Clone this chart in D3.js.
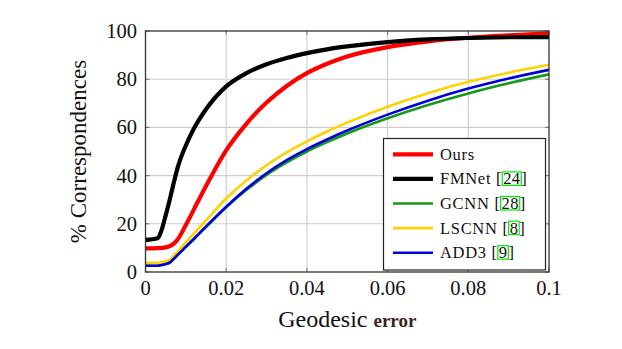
<!DOCTYPE html>
<html>
<head>
<meta charset="utf-8">
<script src="https://d3js.org/d3.v7.min.js"></script>
<style>
  body { margin: 0; background: #fff; }
  svg text { fill: #111; }
</style>
</head>
<body>
<svg id="chart" width="622" height="349"></svg>
<script>
// geodesic error thresholds (x values shared by every curve)
var errors = [0, 0.003, 0.004, 0.005, 0.006, 0.007, 0.008, 0.01, 0.012, 0.015, 0.02,
              0.025, 0.03, 0.035, 0.04, 0.045, 0.05, 0.06, 0.07, 0.08, 0.09, 0.1];

// % correspondences for each method
var ours  = [9.8, 9.9, 10, 10.2, 10.7, 11.8, 13.6, 19.5, 26, 35.7, 50.5, 61.5, 70.3, 77.2, 82.5, 86.4, 89.4, 93.3, 95.7, 97.2, 98.2, 99];
var fmnet = [13.3, 14, 17.5, 23.5, 30, 37, 43.5, 52.5, 59.5, 67.5, 77, 82.5, 86.2, 88.8, 90.8, 92.4, 93.6, 95.4, 96.5, 97.1, 97.4, 97.5];
var gcnn  = [2.6, 2.6, 2.9, 3.3, 3.9, 5.4, 7, 10.3, 13.6, 18.6, 26.8, 34, 40.3, 45.5, 50, 53.9, 57.5, 63.8, 69.3, 74.1, 78.3, 82];
var lscnn = [3.8, 3.8, 4.1, 4.5, 5, 6.8, 8.6, 12.3, 15.9, 21.4, 30.5, 38, 44.3, 49.6, 54.2, 58.3, 62, 68.6, 74.2, 78.9, 82.7, 86];
var add3  = [2.6, 2.6, 2.9, 3.3, 3.9, 5.5, 7.2, 10.5, 13.8, 18.9, 27.1, 34.5, 41, 46.4, 51, 55, 58.7, 65.3, 71.1, 76.1, 80.3, 83.9];

var names  = ["Ours", "FMNet", "GCNN", "LSCNN", "ADD3"];
var cites  = ["", "24", "28", "8", "9"];
var xTicks = [0, 0.02, 0.04, 0.06, 0.08, 0.1];
var yTicks = [0, 20, 40, 60, 80, 100];

var series = [ours, fmnet, gcnn, lscnn, add3];
var colors = ["#ff0000", "#000000", "#149a14", "#ffd200", "#0000dd"];
var widths = [4.2, 4.2, 2.6, 2.6, 2.6];

var serif = "'Liberation Serif'";

var svg = d3.select("#chart");
svg.append("rect").attr("width", 622).attr("height", 349).attr("fill", "#fff");

// plot area edges
var pL = 145.5, pR = 549, pT = 31, pB = 272;
var x = d3.scaleLinear().domain([0, 0.1]).range([pL, pR]);
var y = d3.scaleLinear().domain([0, 100]).range([pB, pT]);

// grid
var grid = svg.append("g");
grid.selectAll(".gx").data(xTicks.slice(1, -1)).enter().append("line")
    .attr("x1", function(d) { return x(d); }).attr("x2", function(d) { return x(d); })
    .attr("y1", pT).attr("y2", pB)
    .attr("stroke", "#cdcdcd").attr("stroke-width", 1.1);
grid.selectAll(".gy").data(yTicks.slice(1, -1)).enter().append("line")
    .attr("y1", function(d) { return y(d); }).attr("y2", function(d) { return y(d); })
    .attr("x1", pL).attr("x2", pR)
    .attr("stroke", "#cdcdcd").attr("stroke-width", 1.1);

// inward ticks on all four sides
var ticks = svg.append("g").attr("stroke", "#777").attr("stroke-width", 1.1);
xTicks.forEach(function(t) {
    ticks.append("line").attr("x1", x(t)).attr("x2", x(t)).attr("y1", pB).attr("y2", pB - 4);
    ticks.append("line").attr("x1", x(t)).attr("x2", x(t)).attr("y1", pT).attr("y2", pT + 4);
});
yTicks.forEach(function(t) {
    ticks.append("line").attr("y1", y(t)).attr("y2", y(t)).attr("x1", pL).attr("x2", pL + 4);
    ticks.append("line").attr("y1", y(t)).attr("y2", y(t)).attr("x1", pR).attr("x2", pR - 4);
});

// curves
svg.append("clipPath").attr("id", "plot")
    .append("rect").attr("x", pL).attr("y", pT - 3).attr("width", pR - pL).attr("height", pB - pT + 3);

var line = d3.line()
    .x(function(d, i) { return x(errors[i]); })
    .y(function(d) { return y(d); })
    .curve(d3.curveMonotoneX);

svg.append("g").attr("clip-path", "url(#plot)")
    .selectAll("path").data(series).enter().append("path")
    .attr("d", line)
    .attr("fill", "none")
    .attr("stroke", function(d, i) { return colors[i]; })
    .attr("stroke-width", function(d, i) { return widths[i]; })
    .attr("stroke-linejoin", "round");

// frame
svg.append("rect").attr("x", pL).attr("y", pT).attr("width", pR - pL).attr("height", pB - pT)
    .attr("fill", "none").attr("stroke", "#333").attr("stroke-width", 1.3);

// tick labels
svg.append("g").selectAll("text").data(xTicks).enter().append("text")
    .attr("x", function(d) { return x(d); }).attr("y", 294.5)
    .attr("text-anchor", "middle").attr("font-family", serif).attr("font-size", 20.5)
    .text(function(d) { return d; });
svg.append("g").selectAll("text").data(yTicks).enter().append("text")
    .attr("x", 137).attr("y", function(d) { return y(d) + 7; })
    .attr("text-anchor", "end").attr("font-family", serif).attr("font-size", 20.5)
    .text(function(d) { return d; });

// axis labels
var xl = svg.append("text").attr("x", (pL + pR) / 2).attr("y", 327)
    .attr("text-anchor", "middle").attr("font-family", serif).attr("font-size", 24);
xl.append("tspan").text("Geodesic ");
xl.append("tspan").text("error").attr("font-weight", "bold").attr("font-size", 19)
    .style("fill", "#3a2620");

svg.append("text")
    .attr("transform", "translate(86," + ((pT + pB) / 2) + ") rotate(-90)")
    .attr("text-anchor", "middle").attr("font-family", serif).attr("font-size", 23)
    .text("% Correspondences");

// legend
var lg = svg.append("g");
lg.append("rect").attr("x", 383.5).attr("y", 138.5).attr("width", 162).attr("height", 131.5)
    .attr("fill", "#fff").attr("stroke", "#222").attr("stroke-width", 1.2);

names.forEach(function(n, i) {
    var ry = 154.3 + i * 24.6;
    lg.append("line").attr("x1", 393).attr("x2", 433).attr("y1", ry).attr("y2", ry)
        .attr("stroke", colors[i]).attr("stroke-width", widths[i]);
    var label = lg.append("text").attr("x", 440).attr("y", ry + 5.5)
        .attr("font-family", serif).attr("font-size", 16.5).attr("letter-spacing", 0.7)
        .text(cites[i] ? n + " [" : n);
    if (!cites[i]) return;
    var cx = 440 + label.node().getComputedTextLength() + 1;
    var num = lg.append("text").attr("x", cx).attr("y", ry + 5.5)
        .attr("font-family", serif).attr("font-size", 16.5).attr("letter-spacing", 0.3)
        .text(cites[i]);
    var w = num.node().getComputedTextLength();
    lg.append("rect").attr("x", cx - 1).attr("y", ry - 7).attr("width", w + 2).attr("height", 13.5)
        .attr("fill", "none").attr("stroke", "#00ee00").attr("stroke-width", 1.2);
    lg.append("text").attr("x", cx + w + 1).attr("y", ry + 5.5)
        .attr("font-family", serif).attr("font-size", 16.5).text("]");
});
</script>
</body>
</html>
